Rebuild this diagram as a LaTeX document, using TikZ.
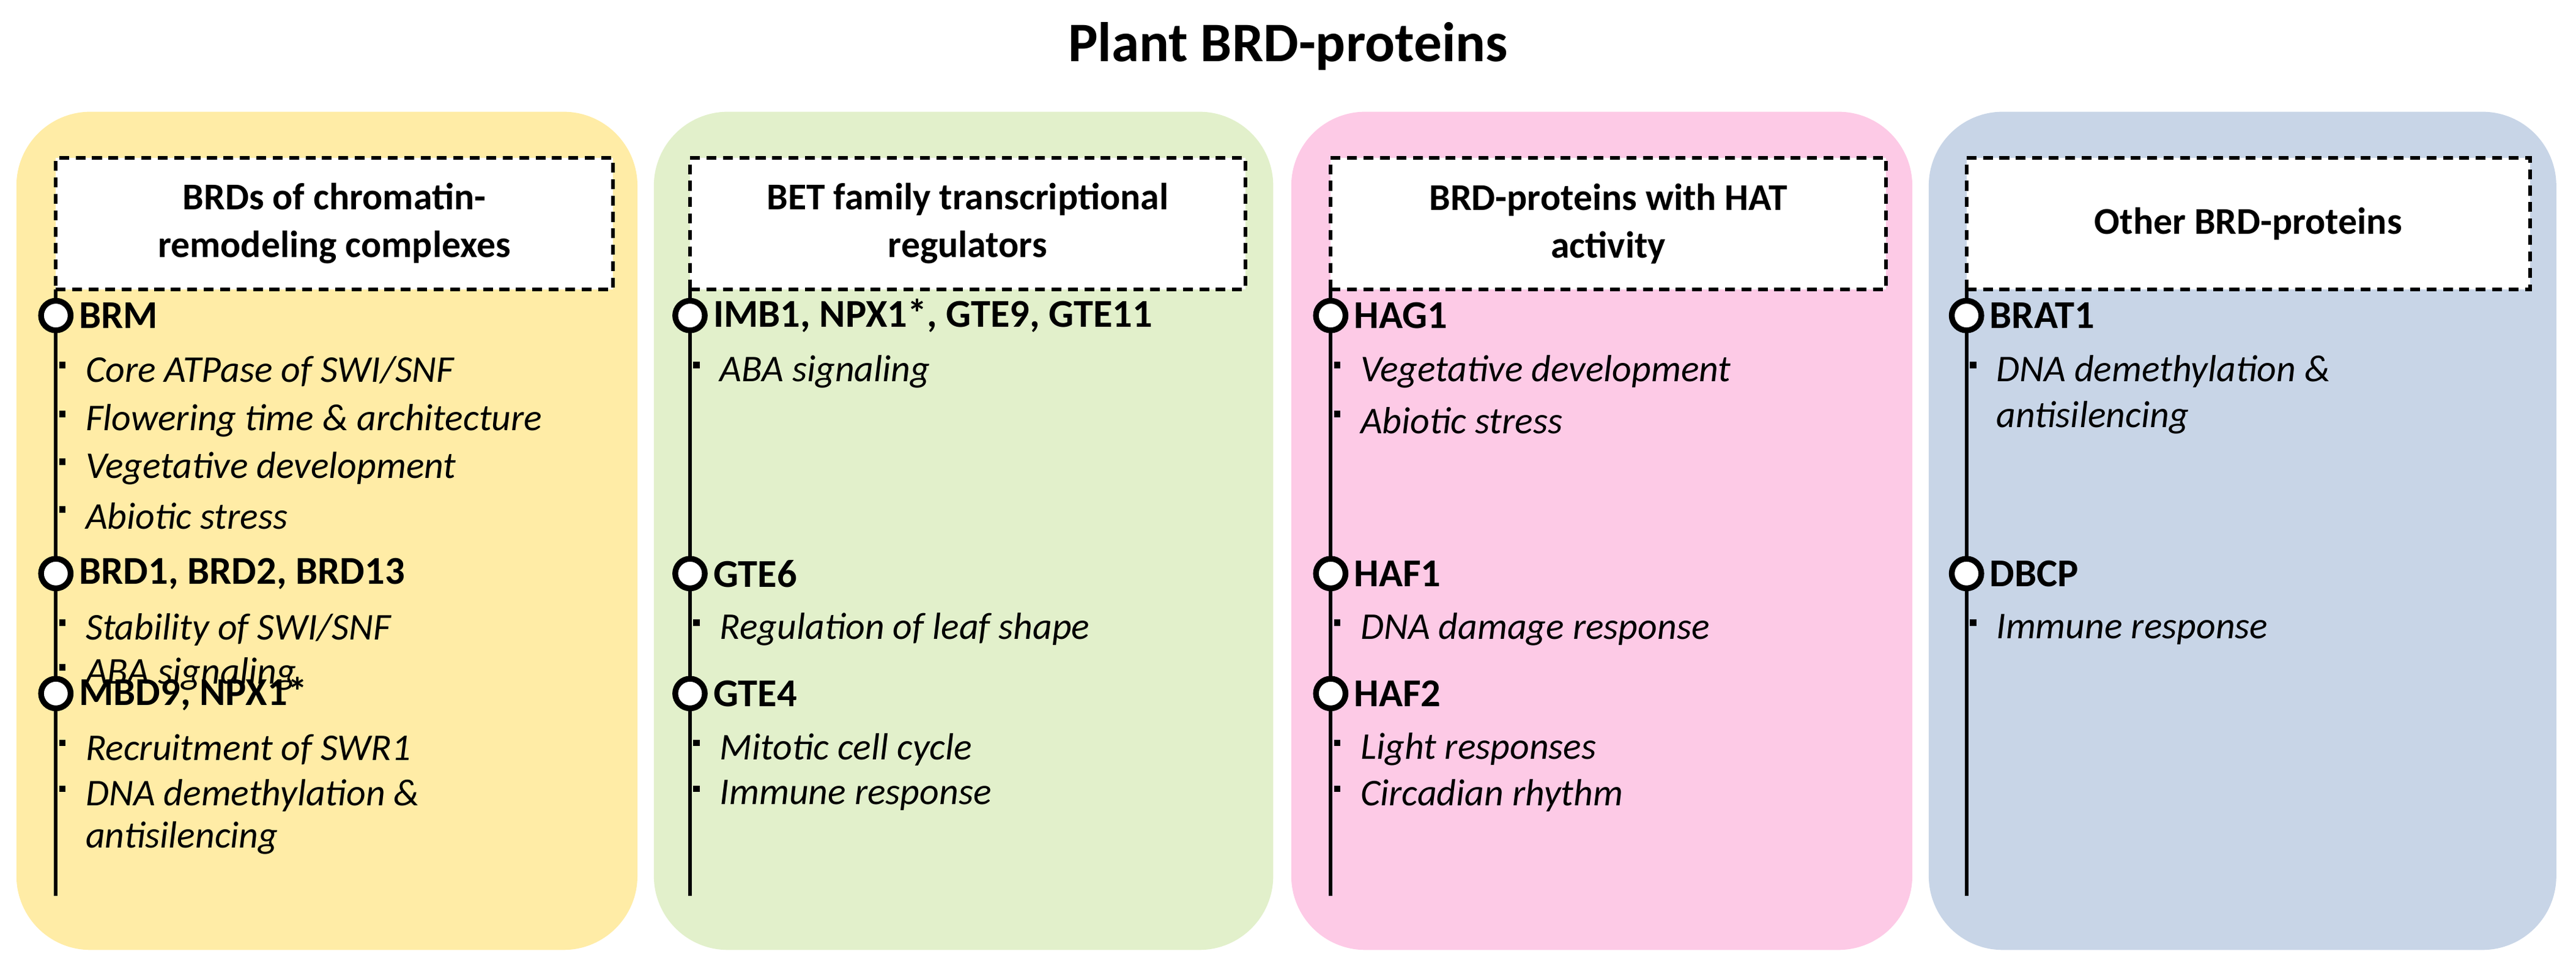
\documentclass[tikz,border=0pt]{standalone}
\usepackage{fontspec}
\setmainfont{Carlito}
\newcommand{\myprot}[4]{\node[dot] (#4) at (#1,#2) {}; \node[prot] at (#1+14,#2) {#3};}
\newcommand{\myitem}[3]{\node[tick] at (#1+4,#2-4) {}; \node[item] at (#1+18,#2) {#3};}
\newcommand{\myitemn}[3]{\node[item] at (#1+18,#2) {#3};}
\begin{document}
\begin{tikzpicture}[x=1pt,y=-1pt,
 panel/.style={rounded corners=45pt},
 hdr/.style={draw,dash pattern=on 6pt off 4pt,line width=2.2pt,fill=white,align=center,font=\fontsize{23}{29}\selectfont\bfseries,inner sep=0pt},
 prot/.style={anchor=west,font=\fontsize{24}{28}\selectfont\bfseries,inner sep=0pt},
 item/.style={anchor=west,font=\fontsize{23}{27}\selectfont\itshape,inner sep=0pt},
 dot/.style={circle,draw,line width=3.5pt,fill=white,minimum size=18pt,inner sep=0pt},
 tick/.style={fill=black,minimum size=4pt,inner sep=0pt}]
\useasboundingbox (0,0) rectangle (1568,592);
\node[font=\fontsize{34}{38}\selectfont\bfseries] (title) at (784,28) {Plant BRD-proteins};
\fill[panel,fill={rgb,255:red,255;green,236;blue,166}] (10,68) rectangle (388,578);
\fill[panel,fill={rgb,255:red,226;green,240;blue,203}] (398,68) rectangle (775,578);
\fill[panel,fill={rgb,255:red,253;green,202;blue,230}] (786,68) rectangle (1164,578);
\fill[panel,fill={rgb,255:red,200;green,213;blue,231}] (1174,68) rectangle (1556,578);
\node[hdr,minimum width=339pt,minimum height=80pt] (h1) at (203.5,136) {BRDs of chromatin-\\remodeling complexes};
\node[hdr,minimum width=338pt,minimum height=80pt] (h2) at (589,136) {BET family transcriptional\\regulators};
\node[hdr,minimum width=338pt,minimum height=80pt] (h3) at (979,136) {BRD-proteins with HAT\\activity};
\node[hdr,minimum width=343pt,minimum height=80pt] (h4) at (1368.5,136) {Other BRD-proteins};
\foreach \x/\n in {34/a,420/b,810/c,1197/d}{
 \coordinate (\n0) at (\x,176); \coordinate (\n1) at (\x,545);
 \draw[line width=2.2pt] (\n0) -- (\n1);}
\myprot{34}{192}{BRM}{p1}
\myitem{34}{226}{Core ATPase of SWI/SNF}
\myitem{34}{256}{Flowering time \& architecture}
\myitem{34}{285}{Vegetative development}
\myitem{34}{314}{Abiotic stress}
\myprot{34}{349}{BRD1, BRD2, BRD13}{p2}
\myitem{34}{383}{Stability of SWI/SNF}
\myitem{34}{410}{ABA signaling}
\myprot{34}{422}{MBD9, NPX1*}{p3}
\myitem{34}{456}{Recruitment of SWR1}
\myitem{34}{484}{DNA demethylation \&}
\myitemn{34}{510}{antisilencing}
\myprot{420}{192}{IMB1, NPX1*, GTE9, GTE11}{q1}
\myitem{420}{226}{ABA signaling}
\myprot{420}{349}{GTE6}{q2}
\myitem{420}{383}{Regulation of leaf shape}
\myprot{420}{422}{GTE4}{q3}
\myitem{420}{456}{Mitotic cell cycle}
\myitem{420}{484}{Immune response}
\myprot{810}{192}{HAG1}{r1}
\myitem{810}{226}{Vegetative development}
\myitem{810}{256}{Abiotic stress}
\myprot{810}{349}{HAF1}{r2}
\myitem{810}{383}{DNA damage response}
\myprot{810}{422}{HAF2}{r3}
\myitem{810}{456}{Light responses}
\myitem{810}{484}{Circadian rhythm}
\myprot{1197}{192}{BRAT1}{s1}
\myitem{1197}{226}{DNA demethylation \&}
\myitemn{1197}{254}{antisilencing}
\myprot{1197}{349}{DBCP}{s2}
\myitem{1197}{383}{Immune response}
\end{tikzpicture}
\end{document}
